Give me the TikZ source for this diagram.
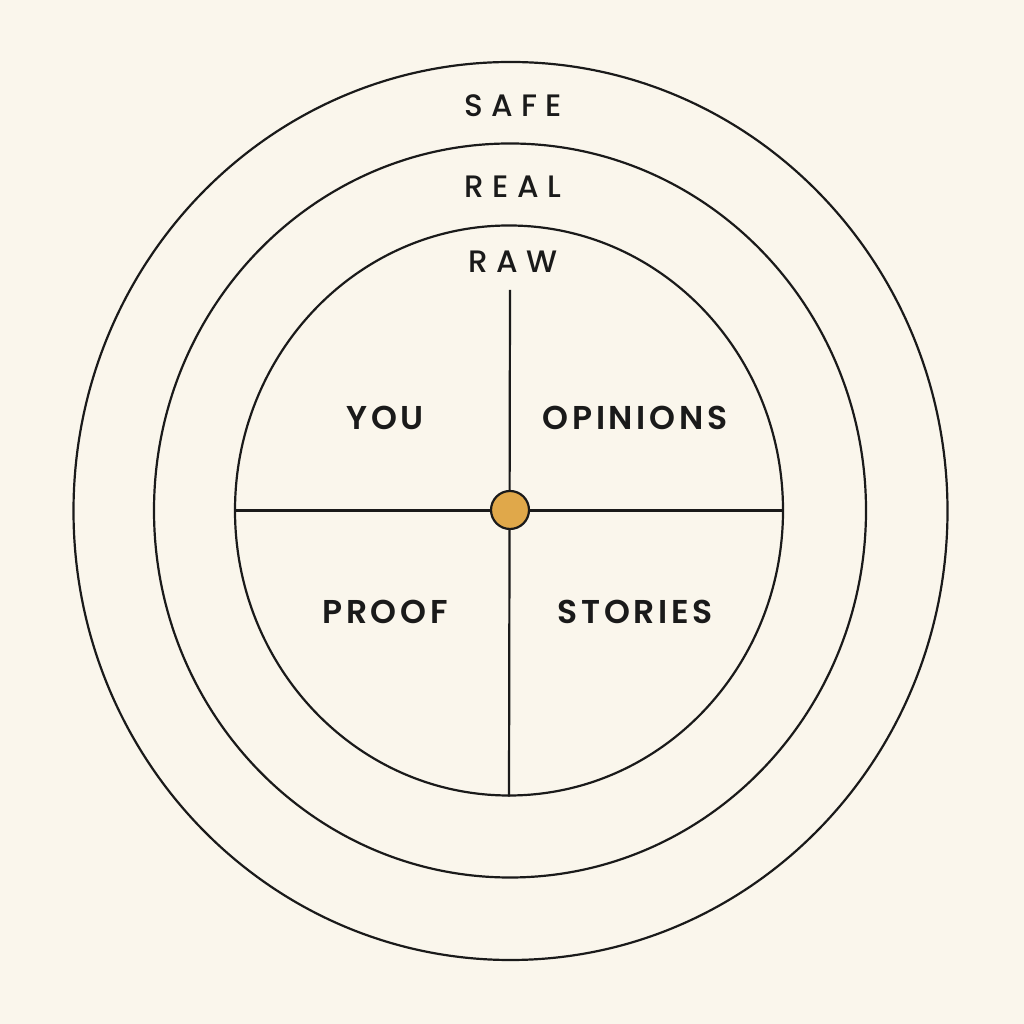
\documentclass[tikz,border=0pt]{standalone}
\usepackage{fontspec}
\usetikzlibrary{shapes.geometric}
\setmainfont{Poppins}
\newfontfamily\ringfont[LetterSpace=27,UprightFont=*-Medium]{Poppins}
\newfontfamily\quadfont[LetterSpace=11,UprightFont=*-SemiBold]{Poppins}
\definecolor{bg}{HTML}{FAF6EC}
\definecolor{ink}{HTML}{1A1A1A}
\definecolor{dotc}{HTML}{E0A84A}
\begin{document}
\begin{tikzpicture}[x=1pt,y=1pt,
  ring/.style={draw=ink,line width=2.2pt},
  ringlabel/.style={text=ink,font=\ringfont\fontsize{31}{34}\selectfont},
  quadlabel/.style={text=ink,font=\quadfont\fontsize{33}{37}\selectfont}]
\fill[bg] (0,0) rectangle (1024,1024);
\useasboundingbox (0,0) rectangle (1024,1024);
\node[ring,ellipse,minimum width=874pt,minimum height=898pt,inner sep=0pt] (outer) at (510.5,513) {};
\node[ring,ellipse,minimum width=712pt,minimum height=734pt,inner sep=0pt] (middle) at (510,513.5) {};
\node[ring,ellipse,minimum width=548pt,minimum height=570pt,inner sep=0pt] (inner) at (509,513.5) {};
\coordinate (vtop) at (510,734);
\draw[ink,line width=2.2pt] (vtop) -- (inner.south);
\draw[ink,line width=2.2pt] (inner.west) -- (inner.east);
\node[ringlabel] (safe) at (513,918) {SAFE};
\node[ringlabel] (real) at (513,837) {REAL};
\node[ringlabel] (raw) at (513,762) {RAW};
\node[quadlabel] (you) at (385,606) {YOU};
\node[quadlabel] (opinions) at (635,606) {OPINIONS};
\node[quadlabel] (proof) at (385,412) {PROOF};
\node[quadlabel] (stories) at (635,412) {STORIES};
\node[circle,draw=ink,fill=dotc,line width=2.2pt,minimum size=38pt,inner sep=0pt] (dot) at (510,514) {};
\end{tikzpicture}
\end{document}
